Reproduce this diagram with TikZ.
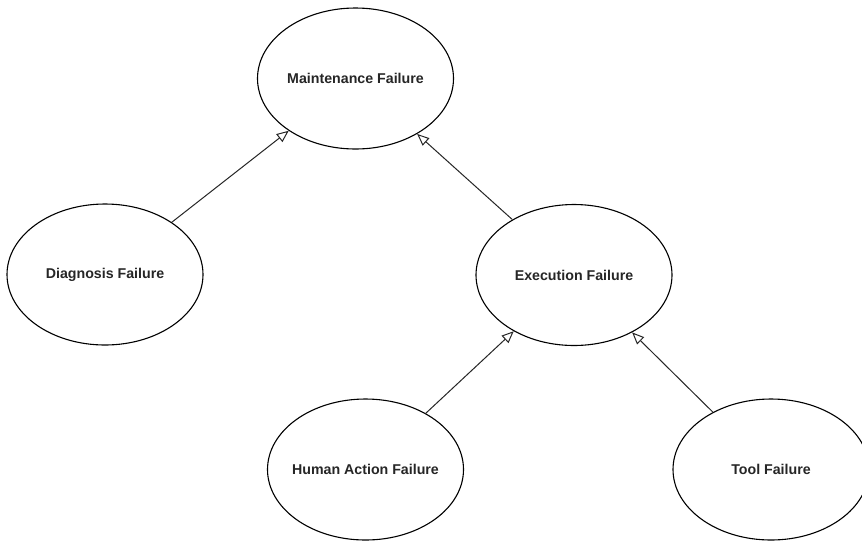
\documentclass[tikz,border=0pt]{standalone}
\usepackage{fontspec}
\setmainfont{Liberation Sans}
\usetikzlibrary{shapes.geometric,arrows.meta}
\begin{document}
\begin{tikzpicture}[x=1pt,y=-1pt,
  failure/.style={ellipse, draw=black, line width=1.1pt, fill=white,
    minimum width=196pt, minimum height=141pt, inner ysep=0pt, inner xsep=-12pt,
    font=\fontsize{14.2}{16}\selectfont\bfseries, text=black!85},
  isa/.style={draw=black!85, line width=1pt,
    -{Triangle[open, length=12pt, width=10pt, line width=1pt]}}]
  \clip (0,0) rectangle (862,542);
  \fill[white] (0,0) rectangle (862,542);

  \node[failure] (maint) at (355.5,78.5) {Maintenance Failure};
  \node[failure] (diag)  at (105,274.5)  {Diagnosis Failure};
  \node[failure] (exec)  at (574,275)    {Execution Failure};
  \node[failure] (human) at (365.5,469.5) {Human Action Failure};
  \node[failure] (tool)  at (771,469.5)  {Tool Failure};

  \draw[isa] (diag)  -- (maint);
  \draw[isa] (exec)  -- (maint);
  \draw[isa] (human) -- (exec);
  \draw[isa] (tool)  -- (exec);
\end{tikzpicture}
\end{document}
